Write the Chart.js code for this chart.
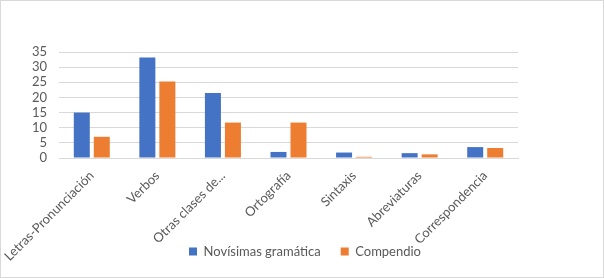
<!DOCTYPE html>
<html lang="es">
<head>
    <meta charset="UTF-8">
    <title>Novísimas gramática vs Compendio</title>
    <script src="https://cdn.jsdelivr.net/npm/chart.js"></script>
    <style>
        html, body { margin: 0; padding: 0; background: #fff; }
        #wrap { width: 604px; height: 278px; position: relative; }
    </style>
</head>
<body>
    <div id="wrap"><canvas id="chart" width="604" height="278"></canvas></div>

    <script>
        const categories = ['Letras-Pronunciación', 'Verbos', 'Otras clases de...', 'Ortografía', 'Sintaxis', 'Abreviaturas', 'Correspondencia'];
        const novisimas = [15, 33.2, 21.5, 2, 1.8, 1.6, 3.6];
        const compendio = [7, 25.3, 11.7, 11.7, 0.4, 1.2, 3.3];
        const seriesNames = ['Novísimas gramática', 'Compendio'];

        // thin grey frame around the whole chart
        const frame = {
            id: 'frame',
            afterLayout(chart) {
                // let the slanted category labels run down over the legend band
                chart.scales.x.bottom = chart.height;
            },
            afterDraw(chart) {
                const c = chart.ctx;
                c.save();
                c.strokeStyle = '#d9d9d9';
                c.lineWidth = 1;
                c.strokeRect(0.5, 0.5, chart.width - 1, chart.height - 1);
                c.restore();
            }
        };

        const font = { family: 'Lato', size: 13 };

        const ctx = document.getElementById('chart').getContext('2d');
        new Chart(ctx, {
            type: 'bar',
            data: {
                labels: categories,
                datasets: [
                    { label: seriesNames[0], data: novisimas, backgroundColor: '#4472C4' },
                    { label: seriesNames[1], data: compendio, backgroundColor: '#ED7D31' }
                ]
            },
            options: {
                responsive: false,
                animation: false,
                datasets: { bar: { categoryPercentage: 0.61, barPercentage: 0.8 } },
                layout: { padding: { top: 52, right: 0, left: 6, bottom: 10 } },
                scales: {
                    x: {
                        grid: { display: false },
                        border: { color: '#d9d9d9' },
                        ticks: {
                            color: '#595959',
                            font: font,
                            minRotation: 45,
                            maxRotation: 45,
                            autoSkip: false,
                            padding: 2
                        },
                        afterCalculateLabelRotation(axis) { axis.labelRotation = 45; },
                        afterFit(axis) { axis.height = 67; }
                    },
                    y: {
                        min: 0,
                        max: 35,
                        ticks: {
                            stepSize: 5,
                            autoSkip: false,
                            color: '#595959',
                            font: font,
                            padding: 12
                        },
                        grid: { color: '#d9d9d9', drawTicks: false },
                        border: { display: false },
                        afterFit(axis) { axis.width = 53; }
                    },
                    // empty right-hand axis keeps the blank space right of the plot
                    yr: {
                        position: 'right',
                        display: true,
                        grid: { display: false, drawTicks: false },
                        ticks: { display: false },
                        border: { display: false },
                        afterFit(axis) { axis.width = 86; }
                    }
                },
                plugins: {
                    legend: {
                        position: 'bottom',
                        labels: {
                            boxWidth: 8,
                            boxHeight: 8,
                            color: '#595959',
                            font: font,
                            padding: 20
                        }
                    },
                    tooltip: { enabled: false }
                }
            },
            plugins: [frame]
        });
    </script>
</body>
</html>
